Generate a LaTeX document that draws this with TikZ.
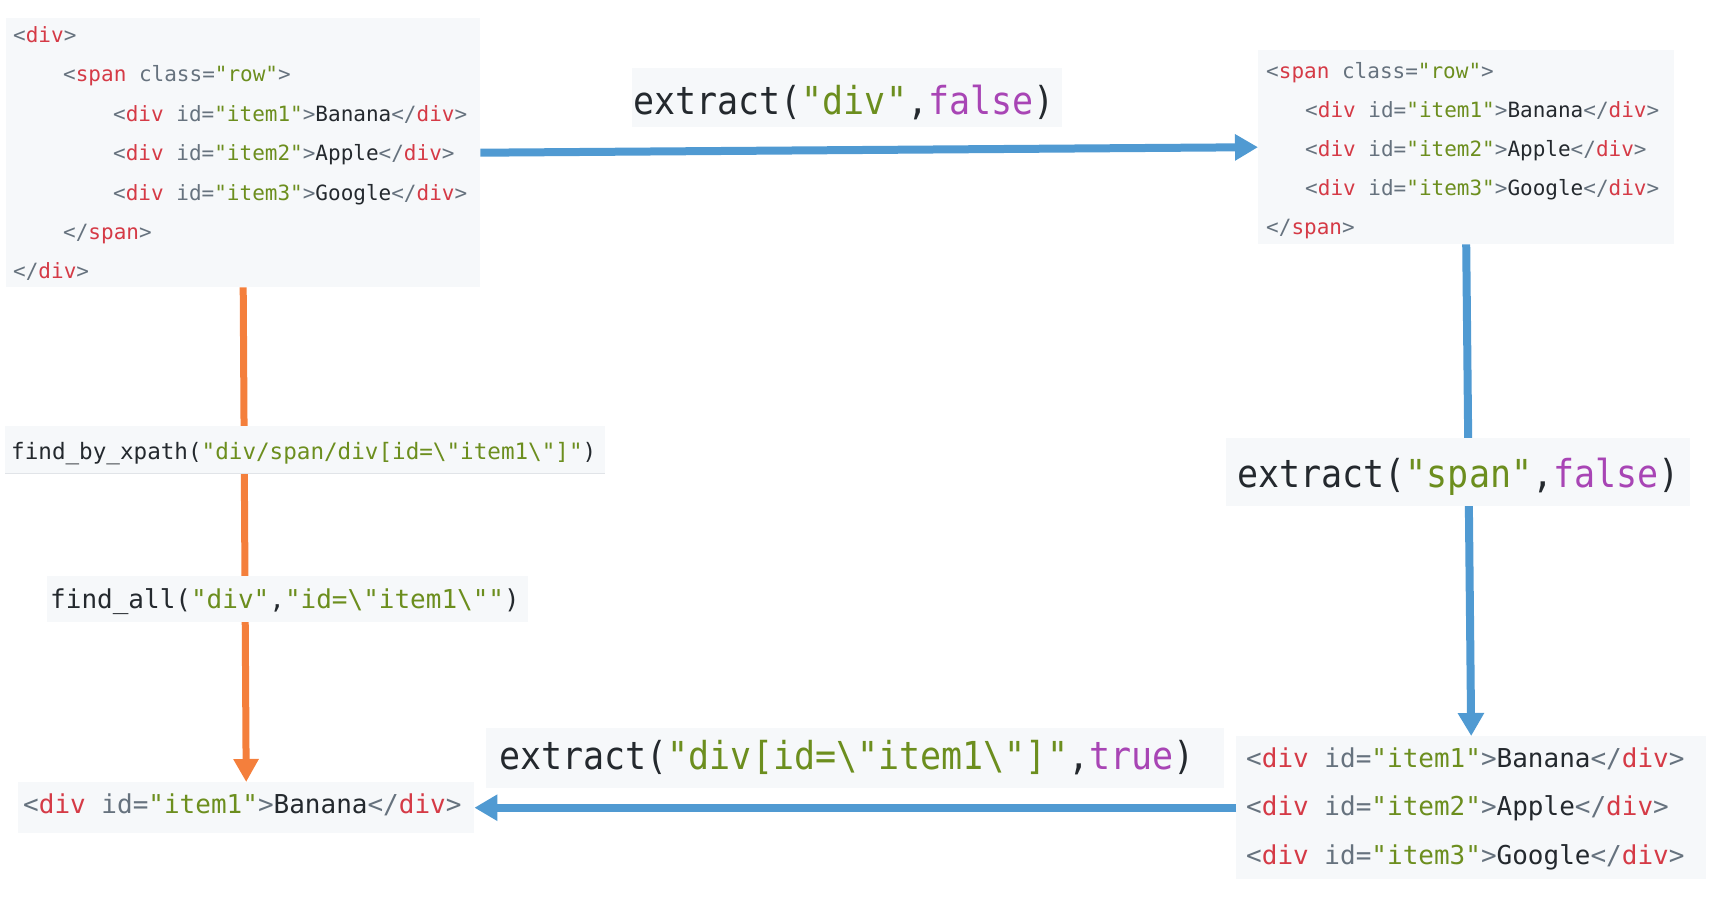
\documentclass[tikz,border=0pt]{standalone}
\usepackage{fontspec}
\usepackage{graphicx}
\setmonofont{DejaVu Sans Mono}
\usetikzlibrary{arrows.meta}
\definecolor{codebg}{HTML}{F6F8FA}
\definecolor{ctagred}{HTML}{D53A46}
\definecolor{cstrgreen}{HTML}{6C8E1E}
\definecolor{cgraytxt}{HTML}{66727E}
\definecolor{cdark}{HTML}{24292E}
\definecolor{cpurple}{HTML}{A845B5}
\definecolor{arrowblue}{HTML}{509AD2}
\definecolor{arroworange}{HTML}{F47F3C}
\definecolor{borderline}{HTML}{E1E4E8}
\newcommand\cG[1]{\textcolor{cgraytxt}{#1}}
\newcommand\cT[1]{\textcolor{ctagred}{#1}}
\newcommand\cS[1]{\textcolor{cstrgreen}{#1}}
\newcommand\cP[1]{\textcolor{cpurple}{#1}}
\newcommand\bsl{\textbackslash}
\newcommand\tallr[1]{\scalebox{1}[1.1]{#1}}
\tikzset{
  codebox/.style={fill=codebg, draw=none, inner sep=0pt, anchor=north west},
  codetext/.style={inner sep=0pt, anchor=base west, text=cdark, font=\ttfamily},
  smalltxt/.style={codetext, font=\ttfamily\fontsize{21}{21}\selectfont},
  midtxt/.style={codetext, font=\ttfamily\fontsize{26}{26}\selectfont},
  bigtxt/.style={codetext, font=\ttfamily\fontsize{35}{35}\selectfont},
  bluearrow/.style={draw=arrowblue, line width=8pt, -{Triangle[width=25pt,length=23pt]}},
  orangearrow/.style={draw=arroworange, line width=7pt, -{Triangle[width=24pt,length=23pt]}},
}
\begin{document}
\begin{tikzpicture}[x=1pt,y=-1pt]
\useasboundingbox (0,0) rectangle (1728,902);
% boxes
\node[codebox, minimum width=474pt, minimum height=269pt] (b1) at (6,18) {};
\node[codebox, minimum width=416pt, minimum height=194pt] (b2) at (1258,50) {};
\node[codebox, minimum width=470pt, minimum height=143pt] (b4) at (1236,736) {};
\node[codebox, minimum width=456pt, minimum height=51pt] (b5) at (18,782) {};
% box 1 text
\node[smalltxt] (b1l1) at (13,42) {\cG{<}\cT{div}\cG{>}};
\node[smalltxt] (b1l2) at (63,81.5) {\cG{<}\cT{span} \cG{class=}\cS{"row"}\cG{>}};
\node[smalltxt] (b1l3) at (113,121) {\cG{<}\cT{div} \cG{id=}\cS{"item1"}\cG{>}Banana\cG{</}\cT{div}\cG{>}};
\node[smalltxt] (b1l4) at (113,160.5) {\cG{<}\cT{div} \cG{id=}\cS{"item2"}\cG{>}Apple\cG{</}\cT{div}\cG{>}};
\node[smalltxt] (b1l5) at (113,200) {\cG{<}\cT{div} \cG{id=}\cS{"item3"}\cG{>}Google\cG{</}\cT{div}\cG{>}};
\node[smalltxt] (b1l6) at (63,239) {\cG{</}\cT{span}\cG{>}};
\node[smalltxt] (b1l7) at (13,278) {\cG{</}\cT{div}\cG{>}};
% box 2 text
\node[smalltxt] (b2l1) at (1266,78) {\cG{<}\cT{span} \cG{class=}\cS{"row"}\cG{>}};
\node[smalltxt] (b2l2) at (1305,117) {\cG{<}\cT{div} \cG{id=}\cS{"item1"}\cG{>}Banana\cG{</}\cT{div}\cG{>}};
\node[smalltxt] (b2l3) at (1305,156) {\cG{<}\cT{div} \cG{id=}\cS{"item2"}\cG{>}Apple\cG{</}\cT{div}\cG{>}};
\node[smalltxt] (b2l4) at (1305,195) {\cG{<}\cT{div} \cG{id=}\cS{"item3"}\cG{>}Google\cG{</}\cT{div}\cG{>}};
\node[smalltxt] (b2l5) at (1266,234) {\cG{</}\cT{span}\cG{>}};
% box 4 text
\node[midtxt] (b4l1) at (1246,767) {\cG{<}\cT{div} \cG{id=}\cS{"item1"}\cG{>}Banana\cG{</}\cT{div}\cG{>}};
\node[midtxt] (b4l2) at (1246,815.5) {\cG{<}\cT{div} \cG{id=}\cS{"item2"}\cG{>}Apple\cG{</}\cT{div}\cG{>}};
\node[midtxt] (b4l3) at (1246,864) {\cG{<}\cT{div} \cG{id=}\cS{"item3"}\cG{>}Google\cG{</}\cT{div}\cG{>}};
% box 5 text
\node[midtxt] (b5l1) at (23,813) {\cG{<}\cT{div} \cG{id=}\cS{"item1"}\cG{>}Banana\cG{</}\cT{div}\cG{>}};
% arrows
\draw[bluearrow] (b1.east) -- (b2.west);
\draw[bluearrow] (b2.south) -- (b4.north);
\draw[bluearrow] (b4.west) -- (b5.east);
\draw[orangearrow] (b1.south) -- (b5.north);
% label boxes
\node[codebox, minimum width=430pt, minimum height=59pt] (L1) at (632,68) {};
\node[bigtxt] (L1t) at (633,114) {\tallr{extract(\cS{"div"},\cP{false})}};
\node[codebox, minimum width=464pt, minimum height=68pt] (L2) at (1226,438) {};
\node[bigtxt] (L2t) at (1237,487) {\tallr{extract(\cS{"span"},\cP{false})}};
\node[codebox, minimum width=738pt, minimum height=60pt] (L3) at (486,728) {};
\node[bigtxt] (L3t) at (499,769) {\tallr{extract(\cS{"div[id=\bsl"item1\bsl"]"},\cP{true})}};
\node[codebox, minimum width=600pt, minimum height=47pt] (L4) at (5,426) {};
\draw[borderline, line width=1.5pt] (L4.south west) -- (L4.south east);
\node[codetext, font=\ttfamily\fontsize{22.6}{22.6}\selectfont] (L4t) at (11,459) {find\_by\_xpath(\cS{"div/span/div[id=\bsl"item1\bsl"]"})};
\node[codebox, minimum width=481pt, minimum height=46pt] (L5) at (47,576) {};
\node[midtxt] (L5t) at (50,608) {find\_all(\cS{"div"},\cS{"id=\bsl"item1\bsl""})};
\end{tikzpicture}
\end{document}
